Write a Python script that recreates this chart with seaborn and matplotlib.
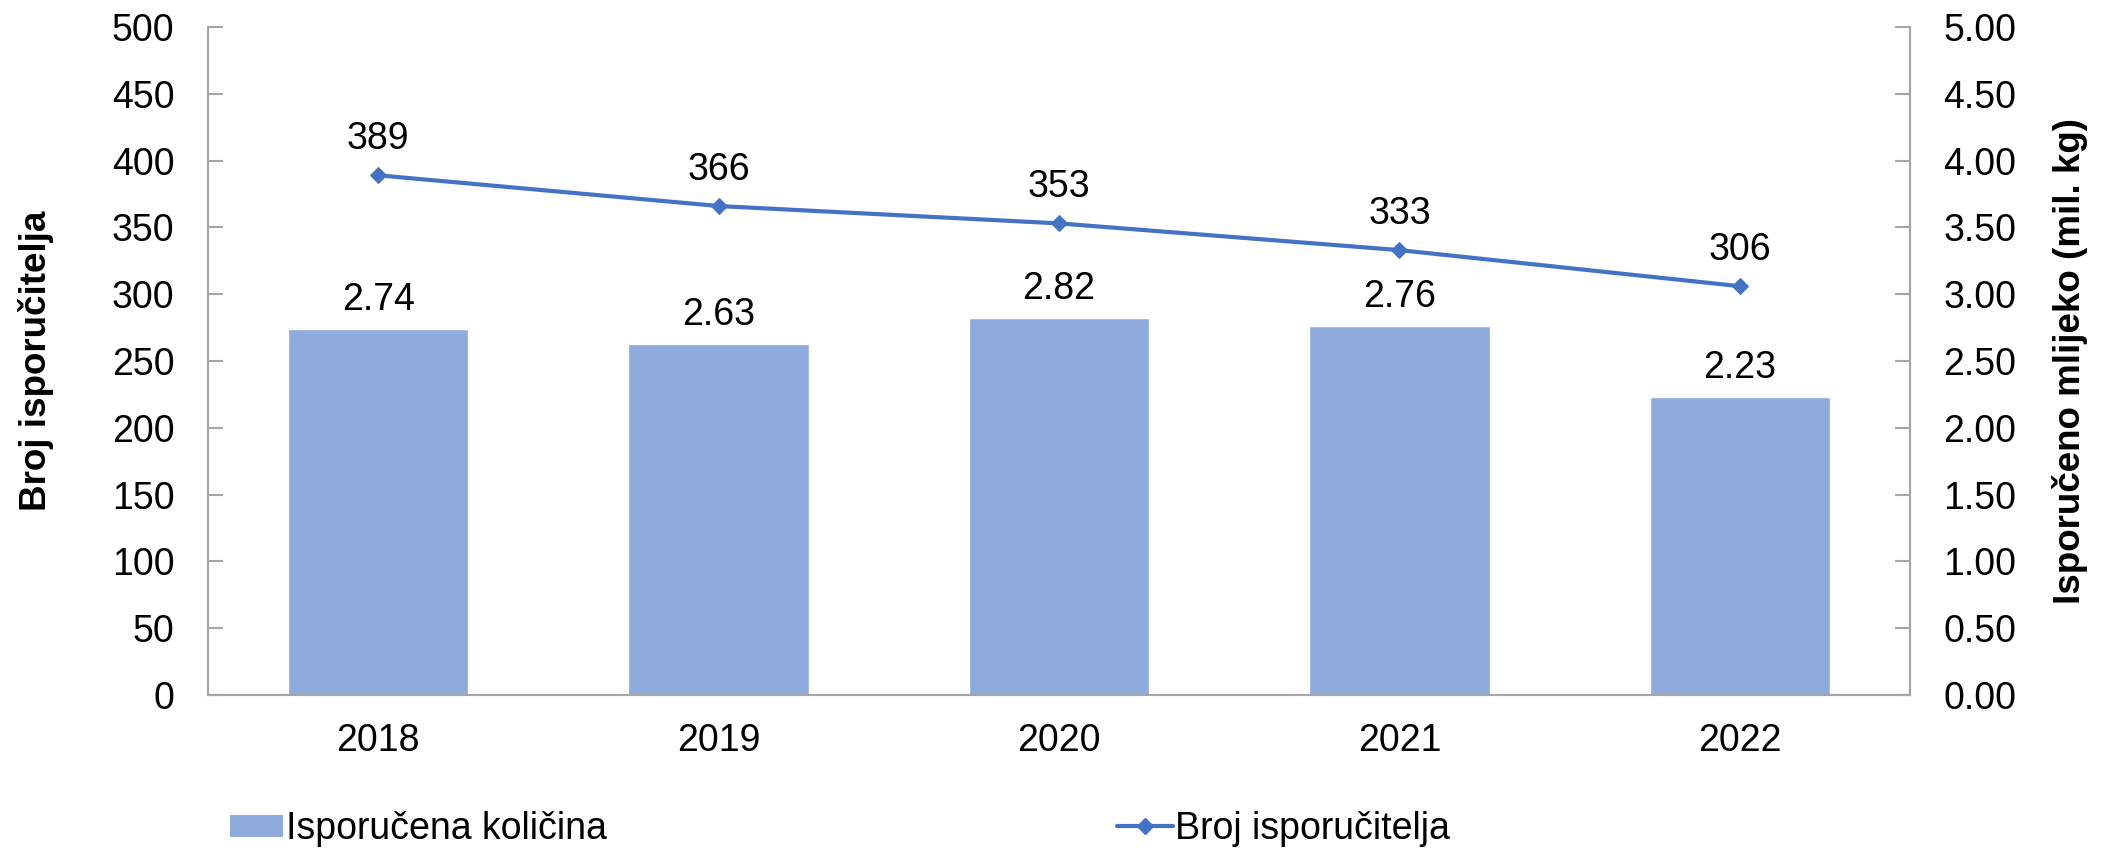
import matplotlib
matplotlib.use("Agg")
import matplotlib.pyplot as plt
import seaborn as sns
import numpy as np
import pandas as pd
from matplotlib.patches import Patch
from matplotlib.lines import Line2D

years = ["2018", "2019", "2020", "2021", "2022"]
kolicina = [2.74, 2.63, 2.82, 2.76, 2.23]      # mil. kg, right axis
isporucitelji = [389, 366, 353, 333, 306]     # left axis

bar_color = "#8FAADC"
line_color = "#4472C4"
axis_gray = "#A6A6A6"
fs = 27

sns.set_style("white")
plt.rcParams["font.family"] = ["Liberation Sans", "DejaVu Sans"]
plt.rcParams["text.color"] = "black"
plt.rcParams["axes.labelcolor"] = "black"
plt.rcParams["xtick.color"] = "black"
plt.rcParams["ytick.color"] = "black"

df = pd.DataFrame({"godina": years, "kolicina": kolicina, "broj": isporucitelji})

fig, ax = plt.subplots(figsize=(21.23, 8.48), dpi=100)
fig.subplots_adjust(left=208 / 2123, right=1910 / 2123, top=1 - 27 / 848, bottom=1 - 695 / 848)

# bars on the base axis (right scale), line on the twin (left scale) so it sits on top
sns.barplot(data=df, x="godina", y="kolicina", color=bar_color, width=0.53,
            saturation=1, ax=ax)
ax2 = ax.twinx()

ax.set_ylim(0, 5)
ax.set_xlim(-0.5, len(years) - 0.5)
ax.set_yticks(np.arange(0, 5.01, 0.5))
ax.set_yticklabels([f"{v:.2f}" for v in np.arange(0, 5.01, 0.5)])
ax.yaxis.tick_right()
ax.yaxis.set_label_position("right")
ax.set_ylabel("Isporučeno mlijeko (mil. kg)", fontsize=26.5, fontweight="bold", labelpad=26)
ax.set_xlabel("")

for i, v in enumerate(kolicina):
    ax.annotate(f"{v:.2f}", (i, v), xytext=(0, 8), textcoords="offset points",
                ha="center", va="bottom", fontsize=fs)

sns.lineplot(x=np.arange(len(years)), y=isporucitelji, color=line_color, lw=3,
             marker="D", markersize=8, markeredgecolor=line_color, ax=ax2)
ax2.set_ylim(0, 500)
ax2.set_yticks(np.arange(0, 501, 50))
ax2.yaxis.tick_left()
ax2.yaxis.set_label_position("left")
ax2.set_ylabel("Broj isporučitelja", fontsize=26.5, fontweight="bold", labelpad=42)

for i, v in enumerate(isporucitelji):
    ax2.annotate(f"{v}", (i, v), xytext=(0, 13), textcoords="offset points",
                 ha="center", va="bottom", fontsize=fs)

for a in (ax, ax2):
    for s in a.spines.values():
        s.set_color(axis_gray)
        s.set_linewidth(1.5)
    a.spines["top"].set_visible(False)
    a.tick_params(axis="y", direction="in", length=11, width=1.5, color=axis_gray,
                  labelcolor="black", labelsize=fs, pad=24)
ax.tick_params(axis="x", length=0, labelsize=fs, pad=20, labelcolor="black")
ax2.tick_params(axis="x", length=0)

# legend: two separate entries, spread along the bottom
legend_font = {"size": fs}
h1 = Patch(facecolor=bar_color, edgecolor="none")
h2 = Line2D([], [], color=line_color, lw=3, marker="D", markersize=8)
fig.legend([h1], ["Isporučena količina"], loc="center left", bbox_to_anchor=(230 / 2123, 0.022),
           frameon=False, prop=legend_font, handlelength=1.4, handleheight=0.55,
           handletextpad=0.1, borderaxespad=0, borderpad=0)
fig.legend([h2], ["Broj isporučitelja"], loc="center left", bbox_to_anchor=(1117 / 2123, 0.022),
           frameon=False, prop=legend_font, handlelength=1.5,
           handletextpad=0.05, borderaxespad=0, borderpad=0)

fig.savefig("out.png", dpi=100)
